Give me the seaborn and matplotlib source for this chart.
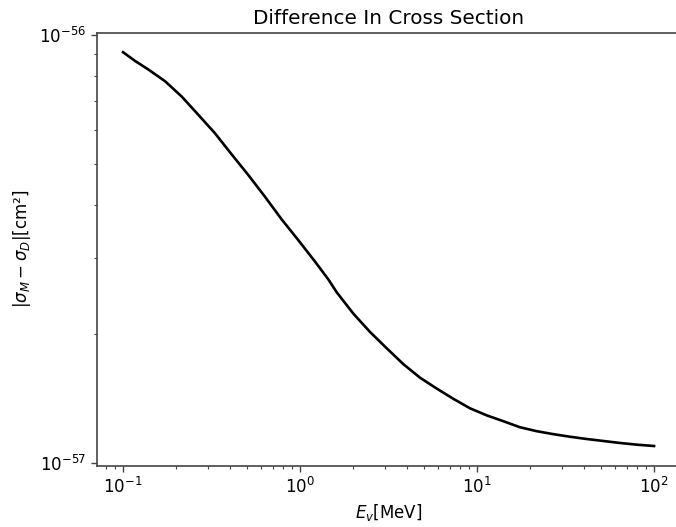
import matplotlib
matplotlib.use("Agg")
import matplotlib.pyplot as plt
import seaborn as sns
import pandas as pd

# Neutrino energy [MeV]
energy = [0.1, 0.117, 0.139, 0.173, 0.215, 0.266, 0.331, 0.411, 0.510, 0.634,
          0.788, 0.978, 1.215, 1.445, 1.612, 2.000, 2.486, 3.09, 3.83, 4.76,
          5.92, 7.35, 9.13, 11.35, 14.09, 17.5, 21.7, 27.0, 33.5, 41.7,
          51.7, 64.3, 79.8, 100.0]
# |sigma_M - sigma_D| [cm^2]
diff_xs = [9.10e-57, 8.68e-57, 8.29e-57, 7.78e-57, 7.16e-57, 6.50e-57, 5.88e-57,
           5.25e-57, 4.70e-57, 4.18e-57, 3.70e-57, 3.31e-57, 2.95e-57, 2.68e-57,
           2.50e-57, 2.23e-57, 2.02e-57, 1.85e-57, 1.70e-57, 1.58e-57, 1.49e-57,
           1.41e-57, 1.34e-57, 1.29e-57, 1.25e-57, 1.21e-57, 1.185e-57, 1.166e-57,
           1.150e-57, 1.136e-57, 1.124e-57, 1.112e-57, 1.102e-57, 1.094e-57]

df = pd.DataFrame({"E": energy, "diff": diff_xs})

fig = plt.figure(figsize=(6.76, 5.27), dpi=100)
ax = fig.add_axes([0.1428, 0.1163, 0.864, 0.822])
sns.lineplot(data=df, x="E", y="diff", ax=ax, color="black", linewidth=1.9)
ax.set_xscale("log")
ax.set_yscale("log")
ax.set_title("Difference In Cross Section", fontsize=14.4)
ax.set_xlabel(r"$E_v$[MeV]", fontsize=12)
ax.set_ylabel(r"$|\sigma_M - \sigma_D|$[cm²]", fontsize=12)
for s in ax.spines.values():
    s.set_linewidth(1.2)
    s.set_color("#444444")
ax.spines["right"].set_visible(False)
ax.tick_params(which="major", labelsize=12, length=4.2, width=1.0, color="#444444")
ax.tick_params(which="minor", length=2.4, width=0.8, color="#444444")
fig.savefig("out.png", dpi=100)
